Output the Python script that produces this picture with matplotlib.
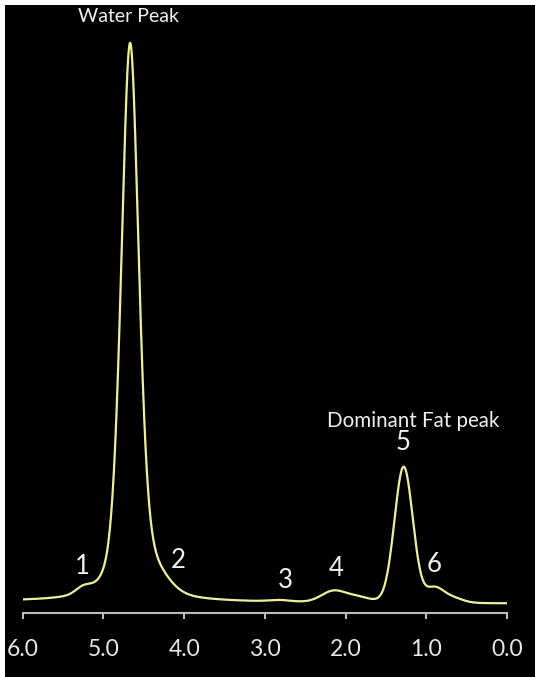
import numpy as np
import matplotlib
matplotlib.use("Agg")
import matplotlib.pyplot as plt
from matplotlib.patches import Rectangle

# peaks (ppm, height above baseline, width in ppm, lorentz share)
peak_names = ["water", "1", "2", "3", "4", "4b", "5", "6", "6b"]
peak_ppm = [4.67, 5.25, 4.36, 2.82, 2.15, 1.85, 1.28, 0.90, 0.68]
peak_height = [556, 6, 14, 1.5, 11, 5, 136, 14, 5]
peak_fwhm = [0.26, 0.22, 0.42, 0.30, 0.35, 0.35, 0.27, 0.26, 0.30]
peak_lorentz = [0.4, 0, 0, 0, 0, 0, 0.05, 0, 0]
baseline_left = 11.5   # at 6.0 ppm
baseline_right = 9.5   # at 0.0 ppm

# text labels (ppm, height)
label_text = ["1", "2", "3", "4", "5", "6"]
label_ppm = [5.26, 4.07, 2.74, 2.12, 1.29, 0.90]
label_y = [47, 53, 33, 45, 170, 49]

tick_vals = [6.0, 5.0, 4.0, 3.0, 2.0, 1.0, 0.0]


def pvoigt(x, c, a, w, eta):
    g = np.exp(-4 * np.log(2) * ((x - c) / w) ** 2)
    l = 1 / (1 + (2 * (x - c) / w) ** 2)
    return a * (eta * l + (1 - eta) * g)


ppm = np.linspace(6.0, 0.0, 1500)
signal = baseline_right + (baseline_left - baseline_right) * ppm / 6.0
for c, a, w, eta in zip(peak_ppm, peak_height, peak_fwhm, peak_lorentz):
    signal = signal + pvoigt(ppm, c, a, w, eta)

plt.rcParams['font.family'] = ['Lato', 'DejaVu Sans']
fig = plt.figure(figsize=(5.35, 6.77), dpi=100, facecolor="white")
fig.patches.append(Rectangle((5 / 535, 0), 1, 672 / 677, transform=fig.transFigure,
                             facecolor="black", edgecolor="none", zorder=-10))

ax = fig.add_axes([22.7 / 535, 64 / 677, 484.3 / 535, 608 / 677])
ax.set_zorder(5)
ax.set_facecolor("none")
ax.plot(ppm, signal, color="#f0ee9e", lw=1.6)
ax.set_xlim(6.0, 0.0)
ax.set_ylim(0, 608)

for s in ["left", "right", "top"]:
    ax.spines[s].set_visible(False)
ax.spines["bottom"].set_color("#bdbdbd")
ax.spines["bottom"].set_linewidth(1.5)
ax.set_yticks([])
ax.set_xticks(tick_vals)
ax.set_xticklabels(["%.1f" % t for t in tick_vals])
ax.tick_params(axis="x", direction="out", length=4.5, width=1.5, color="#bdbdbd",
               labelcolor="#e8e8e8", labelsize=16.5, pad=14)

ax.text(4.695, 596, "Water Peak", color="#f0f0f0", fontsize=14, ha="center", va="center")
ax.text(1.165, 192, "Dominant Fat peak", color="#f0f0f0", fontsize=14.8, ha="center", va="center")
for t, x, y in zip(label_text, label_ppm, label_y):
    ax.text(x, y, t, color="#f0f0f0", fontsize=18.5, ha="center", va="center")

fig.savefig("out.png", dpi=100, facecolor="white")
